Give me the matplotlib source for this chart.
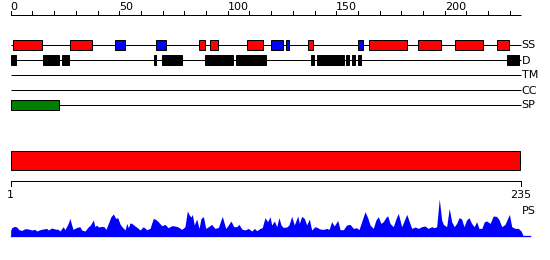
import matplotlib
matplotlib.use("Agg")
import matplotlib.pyplot as plt
from matplotlib.patches import Rectangle
import numpy as np

# ---------------- data ----------------
seq_len = 235
track_names = ["SS", "D", "TM", "CC", "SP"]
top_ticks = list(range(0, 231, 10))
top_labels = [0, 50, 100, 150, 200]

helix_start = [1, 27, 86.5, 91.5, 108.5, 136.8, 164.8, 187.4, 204.4, 223.8]
helix_end = [14.6, 37.6, 89.7, 95.7, 116.4, 139.6, 183.0, 198.6, 218.0, 229.7]
strand_start = [47.7, 66.6, 119.5, 126.7, 159.7]
strand_end = [53.0, 71.7, 125.6, 128.6, 162.7]
dis_start = [0, 14.6, 23.6, 65.6, 69.3, 89.5, 103.4, 138.2, 140.7, 154.5, 157.1, 159.6, 228.3]
dis_end = [2.8, 22.7, 26.9, 67.0, 79.0, 102.9, 118.1, 139.8, 154.0, 155.9, 159.0, 161.7, 234.7]
sp_start = [0]
sp_end = [22.4]
domain_start = [0]
domain_end = [235]
axis_end_labels = ["1", "235"]

ps_pos = [0, 0.5, 1.7, 2.8, 3.8, 5.1, 6.6, 8.1, 9.7, 11.2,
          12.0, 13.5, 15.0, 16.6, 17.3, 18.9, 20.4, 21.9, 22.7, 24.2,
          25.0, 26.5, 27.3, 28.1, 28.8, 30.4, 31.9, 32.7, 34.2, 35.8,
          36.5, 38.1, 38.8, 39.6, 40.4, 41.9, 43.0, 43.9, 45.0, 46.2,
          47.3, 48.4, 49.3, 50.4, 51.4, 52.7, 53.5, 54.2, 55.0, 55.8,
          57.3, 58.8, 59.6, 61.1, 62.7, 64.2, 65.7, 66.8, 68.0, 69.6,
          71.1, 72.6, 74.2, 75.7, 77.2, 78.8, 80.3, 81.4, 82.3, 83.1,
          83.7, 84.6, 85.7, 86.8, 87.7, 88.8, 89.9, 91.1, 92.6, 94.1,
          95.7, 97.5, 99.1, 100.3, 101.5, 102.8, 104.1, 105.2, 106.5, 108.0,
          109.5, 111.1, 112.3, 113.4, 114.9, 115.9, 117.2, 118.4, 119.5, 120.3,
          121.5, 122.6, 123.6, 124.6, 125.6, 127.2, 128.2, 129.5, 130.7, 132.3,
          133.0, 134.1, 135.3, 136.4, 137.6, 138.7, 140.2, 141.5, 142.5, 144.1,
          145.6, 146.7, 147.9, 149.1, 150.7, 151.8, 153.3, 154.8, 156.4, 157.9,
          159.4, 160.5, 162.0, 163.3, 164.5, 165.6, 167.1, 168.3, 169.4, 170.6,
          171.7, 172.8, 173.7, 174.8, 176.3, 177.6, 178.6, 180.2, 182.5, 184.8,
          186.4, 187.8, 189.4, 190.9, 192.4, 194.0, 195.2, 196.3, 197.5, 198.6,
          199.4, 200.9, 202.1, 203.2, 204.4, 205.5, 206.6, 207.8, 208.9, 210.1,
          211.2, 212.4, 213.6, 214.7, 215.8, 217.1, 218.3, 219.4, 220.9, 222.4,
          223.9, 225.1, 226.3, 227.8, 229.8, 230.9, 232.4, 233.9, 235.2, 236.0]
ps_val = [5.7, 8.0, 9.3, 8.7, 6.0, 5.3, 7.0, 6.7, 5.7, 6.3,
          4.7, 6.0, 6.7, 7.3, 5.7, 7.7, 6.7, 6.3, 4.7, 9.0,
          6.0, 12.3, 17.3, 10.7, 6.3, 8.3, 9.0, 5.7, 4.7, 9.0,
          10.0, 15.7, 9.0, 10.7, 8.7, 9.3, 9.0, 6.3, 12.3, 19.0,
          21.7, 17.3, 18.0, 11.7, 8.7, 5.7, 12.3, 8.0, 12.7, 12.3,
          9.7, 7.3, 5.7, 9.0, 6.0, 7.3, 17.3, 16.3, 14.0, 10.0,
          11.3, 8.0, 10.0, 9.7, 8.7, 6.3, 9.0, 24.7, 20.7, 18.7,
          21.3, 10.7, 16.7, 7.3, 17.3, 19.0, 7.3, 9.0, 11.3, 7.3,
          8.3, 19.3, 7.3, 10.7, 14.7, 9.0, 9.0, 11.3, 6.7, 5.7,
          7.3, 4.7, 7.3, 5.0, 7.3, 8.0, 18.0, 14.0, 19.0, 10.7,
          14.7, 9.0, 18.0, 10.7, 8.3, 8.7, 10.7, 19.3, 10.7, 19.7,
          12.3, 19.3, 17.3, 10.7, 16.7, 5.7, 9.0, 8.0, 6.7, 6.3,
          7.3, 6.3, 14.0, 9.7, 15.3, 6.0, 6.0, 10.7, 11.3, 7.3,
          8.0, 6.0, 15.7, 24.0, 18.0, 10.7, 7.3, 15.7, 19.0, 12.3,
          14.0, 18.0, 20.0, 12.3, 9.0, 17.3, 22.3, 9.0, 21.3, 7.3,
          8.7, 7.3, 9.0, 9.7, 7.3, 9.0, 8.0, 9.0, 36.7, 15.7,
          11.3, 9.0, 27.3, 14.0, 9.0, 12.3, 18.0, 16.7, 9.0, 15.7,
          18.0, 12.3, 9.0, 14.0, 7.3, 7.3, 14.0, 14.7, 12.3, 19.7,
          19.3, 15.7, 9.0, 11.3, 21.3, 9.0, 7.3, 7.3, 4.7, 0.7]
assert len(ps_pos) == len(ps_val)

# ---------------- layout ----------------
W, H = 550, 260
DPI = 100
fig = plt.figure(figsize=(W / DPI, H / DPI), dpi=DPI)
ax = fig.add_axes([0, 0, 1, 1])
PXR = 2.17          # pixels per residue
X0 = 10.7           # pixel of residue 0
ax.set_xlim(-X0 / PXR, (W - X0) / PXR)
ax.set_ylim(H, 0)   # y in pixel rows
ax.axis("off")

LW = 72.0 / DPI     # 1 pixel
FS = 8
px = lambda n: n / PXR  # pixel distance -> residues
INSET = px(0.5)         # keep the 1px outline inside the read extents

# top ruler
ax.plot([0, seq_len], [15, 15], color="black", lw=LW, solid_capstyle="butt")
for t in top_ticks:
    ax.plot([t, t], [15, 11], color="black", lw=LW)
for t in top_labels:
    ax.text(t, 10.5, str(t), ha="left", va="baseline", fontsize=FS, color="black")

# tracks
track_y = [45, 60, 75, 90, 105]
for name, y in zip(track_names, track_y):
    ax.plot([0, seq_len], [y, y], color="black", lw=LW, solid_capstyle="butt", zorder=1)
    ax.text(seq_len + px(1), y + 0.5, name, ha="left", va="center", fontsize=FS, color="black")

def boxes(starts, ends, y, color, h=10.0):
    for s, e in zip(starts, ends):
        ax.add_patch(Rectangle((s + INSET, y - h / 2), (e - s) - 2 * INSET, h,
                               facecolor=color, edgecolor="black", lw=LW, zorder=3))

boxes(helix_start, helix_end, track_y[0], "#ff0000")
boxes(strand_start, strand_end, track_y[0], "#0000ff")
boxes(dis_start, dis_end, track_y[1], "#000000")
boxes(sp_start, sp_end, track_y[4], "#008000")

# domain bar
for s, e in zip(domain_start, domain_end):
    ax.add_patch(Rectangle((s + INSET, 150.5), (e - s) - 2 * INSET, 19.5, facecolor="#ff0000",
                           edgecolor="black", lw=LW, zorder=3))

# bottom ruler
ax.plot([0, seq_len], [180.7, 180.7], color="black", lw=LW, solid_capstyle="butt")
ax.plot([0, 0], [180.7, 185.5], color="black", lw=LW)
ax.plot([seq_len, seq_len], [180.7, 185.5], color="black", lw=LW)
ax.text(0, 195.5, axis_end_labels[0], ha="center", va="center", fontsize=FS)
ax.text(seq_len, 195.5, axis_end_labels[1], ha="center", va="center", fontsize=FS)
ax.text(seq_len + px(1), 210.5, "PS", ha="left", va="center", fontsize=FS)

# PS profile
base = 235.7
pos = np.array(ps_pos)
val = np.array(ps_val)
ax.fill_between(pos, base, base - val, color="#0000ff", lw=0, zorder=2)
ax.plot([0, seq_len + px(9)], [base, base], color="#0000ff", lw=LW * 1.3, zorder=2)

fig.savefig("out.png", dpi=DPI)
